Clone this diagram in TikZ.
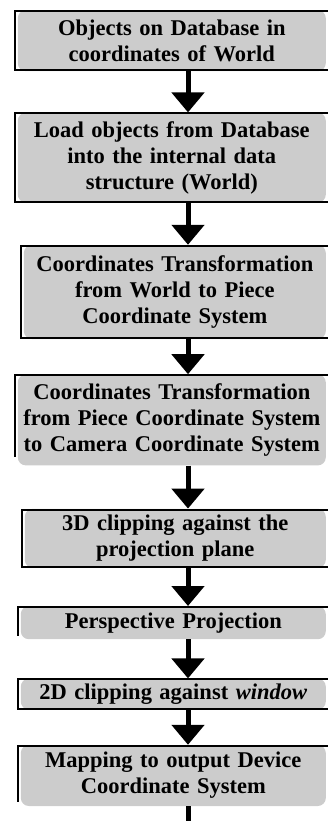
\documentclass[tikz,border=0pt]{standalone}
\usepackage{fontspec}
\setmainfont{Liberation Serif}
\usetikzlibrary{positioning,arrows.meta}

\begin{document}
\begin{tikzpicture}[x=1pt,y=1pt]
\tikzstyle{stage}=[rectangle, fill=black!20, rounded corners=8pt, align=center, inner xsep=0pt, inner ysep=2pt, font=\bfseries\fontsize{22.5}{26}\selectfont, anchor=north east]
\tikzstyle{flow}=[-{Triangle[width=32pt,length=20pt]}, line width=5pt]
\tikzstyle{rim}=[line width=2pt]
  \path[use as bounding box,clip] (0,0) rectangle (328,-821);
  \node[stage,text width=308pt,minimum height=61pt] (S1) at (326,-10) {Objects on Database in\\coordinates of World};
  \node[stage,text width=308pt,minimum height=90pt,below=41pt of S1.south east,anchor=north east] (S2) {Load objects from Database\\into the internal data\\structure (World)};
  \node[stage,text width=302pt,minimum height=94pt,below=42pt of S2.south east,anchor=north east] (S3) {Coordinates Transformation\\from World to Piece\\Coordinate System};
  \node[stage,text width=308pt,minimum height=91pt,below=35pt of S3.south east,anchor=north east] (S4) {Coordinates Transformation\\from Piece Coordinate System\\to Camera Coordinate System};
  \node[stage,text width=301pt,minimum height=59pt,below=43pt of S4.south east,anchor=north east] (S5) {3D clipping against the\\projection plane};
  \node[stage,text width=305pt,minimum height=33pt,below=38pt of S5.south east,anchor=north east] (S6) {Perspective Projection};
  \node[stage,text width=305pt,minimum height=31pt,below=39pt of S6.south east,anchor=north east] (S7) {2D clipping against \textit{window}};
  \node[stage,text width=305pt,minimum height=61pt,below=35pt of S7.south east,anchor=north east] (S8) {Mapping to output Device\\Coordinate System};

  % black frames round the boxes
  \draw[rim] ([xshift=12pt,yshift=-1pt]S1.north east) -| ([xshift=-3pt,yshift=1pt]S1.south west) -- ([xshift=12pt,yshift=1pt]S1.south east);
  \draw[rim] ([xshift=12pt,yshift=-1pt]S2.north east) -| ([xshift=-3pt,yshift=1pt]S2.south west) -- ([xshift=12pt,yshift=1pt]S2.south east);
  \draw[rim] ([xshift=12pt,yshift=-1pt]S3.north east) -| ([xshift=-3pt,yshift=1pt]S3.south west) -- ([xshift=12pt,yshift=1pt]S3.south east);
  \draw[rim] ([xshift=12pt,yshift=-1pt]S4.north east) -| ([xshift=-3pt,yshift=9pt]S4.south west);
  \draw[rim] ([xshift=12pt,yshift=-1pt]S5.north east) -| ([xshift=-3pt,yshift=1pt]S5.south west) -- ([xshift=12pt,yshift=1pt]S5.south east);
  \draw[rim] ([xshift=12pt,yshift=-1pt]S6.north east) -| ([xshift=-3pt,yshift=3pt]S6.south west);
  \draw[rim] ([xshift=12pt,yshift=-1pt]S7.north east) -| ([xshift=-3pt,yshift=1pt]S7.south west) -- ([xshift=12pt,yshift=1pt]S7.south east);
  \draw[rim] ([xshift=12pt,yshift=-1pt]S8.north east) -| ([xshift=-3pt,yshift=4pt]S8.south west);

  % arrows
  \coordinate (ax) at (188,0);
  \coordinate (tail) at (188,-830);
  \draw[flow] (S1.south -| ax) -- (S2.north -| ax);
  \draw[flow] (S2.south -| ax) -- (S3.north -| ax);
  \draw[flow] (S3.south -| ax) -- (S4.north -| ax);
  \draw[flow] (S4.south -| ax) -- (S5.north -| ax);
  \draw[flow] (S5.south -| ax) -- (S6.north -| ax);
  \draw[flow] (S6.south -| ax) -- (S7.north -| ax);
  \draw[flow] (S7.south -| ax) -- (S8.north -| ax);
  \draw[line width=5pt] (S8.south -| ax) -- (tail);
\end{tikzpicture}
\end{document}
